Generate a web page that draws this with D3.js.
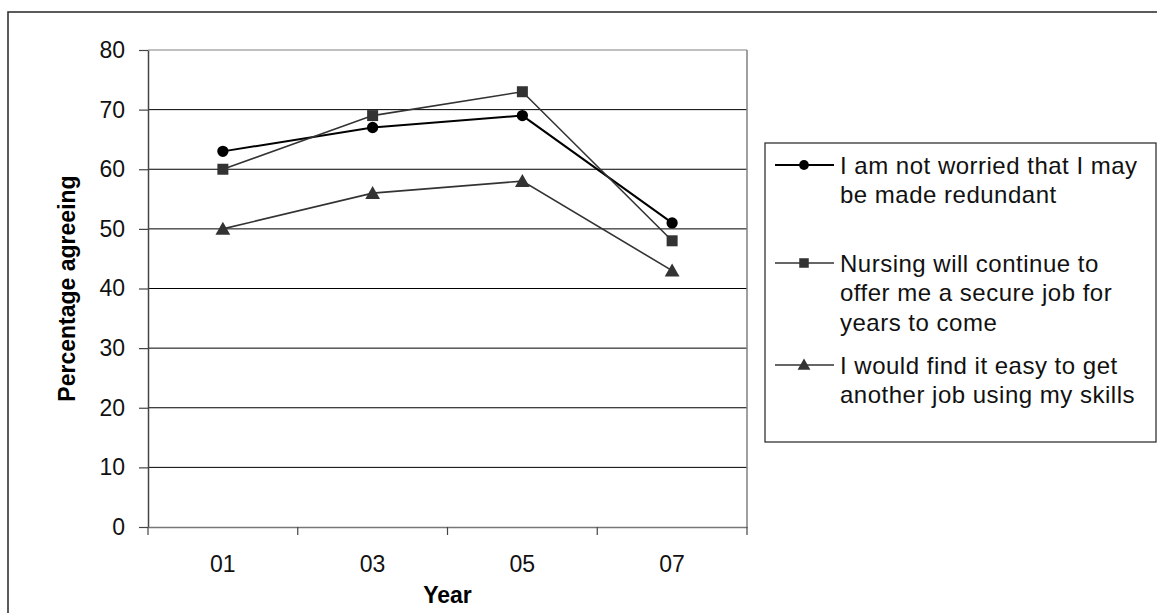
<!DOCTYPE html>
<html>
<head>
<meta charset="utf-8">
<script src="https://cdn.jsdelivr.net/npm/d3@7"></script>
<style>
  html, body { margin: 0; padding: 0; background: #fff; }
  svg { display: block; font-family: "Liberation Sans", Arial, sans-serif; }
</style>
</head>
<body>
<svg id="chart" width="1157" height="613"></svg>
<script>
// Survey years (two-digit labels) and share of nurses agreeing with each statement
const years = ["01", "03", "05", "07"];
const notWorried = [63, 67, 69, 51];
const secureJob = [60, 69, 73, 48];
const easyJob = [50, 56, 58, 43];
const yTicks = [0, 10, 20, 30, 40, 50, 60, 70, 80];

const seriesNames = [
  ["I am not worried that I may", "be made redundant"],
  ["Nursing will continue to", "offer me a secure job for", "years to come"],
  ["I would find it easy to get", "another job using my skills"]
];

const series = [
  { values: notWorried, name: seriesNames[0], symbol: d3.symbolCircle, size: 100, color: "#000", width: 2 },
  { values: secureJob, name: seriesNames[1], symbol: d3.symbolSquare, size: 121, color: "#333", width: 1.6 },
  { values: easyJob, name: seriesNames[2], symbol: d3.symbolTriangle, size: 95, color: "#333", width: 1.6 }
];

const svg = d3.select("#chart");

// Outer frame (runs off the right and bottom edges)
svg.append("rect")
  .attr("x", 8).attr("y", 12)
  .attr("width", 1200).attr("height", 700)
  .attr("fill", "none").attr("stroke", "#333").attr("stroke-width", 1.6);

const plot = { left: 148, right: 747, top: 50, bottom: 527 };

const x = d3.scaleBand().domain(years).range([plot.left, plot.right]);
const y = d3.scaleLinear().domain([0, 80]).range([plot.bottom, plot.top]);

// Horizontal gridlines
svg.append("g")
  .selectAll("line")
  .data(yTicks.filter(t => t > 0))
  .join("line")
  .attr("x1", plot.left).attr("x2", plot.right)
  .attr("y1", d => y(d)).attr("y2", d => y(d))
  .attr("stroke", d => d === 80 ? "#808080" : "#000")
  .attr("stroke-width", 1);

// Right edge of plot area
svg.append("line")
  .attr("x1", plot.right).attr("x2", plot.right)
  .attr("y1", plot.top).attr("y2", plot.bottom)
  .attr("stroke", "#808080").attr("stroke-width", 1.5);

// Y axis
const yAxis = svg.append("g")
  .attr("transform", `translate(${plot.left},0)`)
  .call(d3.axisLeft(y).tickValues(yTicks).tickSize(9).tickPadding(14).tickSizeOuter(0));
yAxis.select(".domain").attr("stroke", "#444").attr("stroke-width", 1.5);
yAxis.selectAll(".tick line").attr("stroke", "#444").attr("stroke-width", 1.2);
yAxis.selectAll(".tick text")
  .attr("font-size", 23).attr("fill", "#111")
  .attr("font-family", "Liberation Sans, Arial, sans-serif");

// X axis: ticks sit on category boundaries
const xAxis = svg.append("g")
  .attr("transform", `translate(0,${plot.bottom})`)
  .call(d3.axisBottom(x).tickSize(0).tickPadding(29));
xAxis.select(".domain").attr("stroke", "#777").attr("stroke-width", 1.5);
xAxis.selectAll(".tick text")
  .attr("font-size", 23).attr("fill", "#111")
  .attr("font-family", "Liberation Sans, Arial, sans-serif");
const boundaries = years.map(d => x(d)).concat([x(years[years.length - 1]) + x.bandwidth()]);
xAxis.selectAll(".bound")
  .data(boundaries)
  .join("line")
  .attr("class", "bound")
  .attr("x1", d => d).attr("x2", d => d)
  .attr("y1", 0).attr("y2", 8)
  .attr("stroke", "#444").attr("stroke-width", 1.2);

// Axis titles
svg.append("text")
  .attr("x", x(years[1]) + x.bandwidth())
  .attr("y", 603)
  .attr("text-anchor", "middle")
  .attr("font-size", 23).attr("font-weight", "bold")
  .text("Year");

svg.append("text")
  .attr("transform", `translate(75,${(plot.top + plot.bottom) / 2}) rotate(-90)`)
  .attr("text-anchor", "middle")
  .attr("font-size", 23).attr("font-weight", "bold")
  .text("Percentage agreeing");

// Series lines and markers
const cx = d => x(d) + x.bandwidth() / 2;
const line = d3.line().x((v, i) => cx(years[i])).y(v => y(v));

series.forEach(s => {
  svg.append("path")
    .attr("d", line(s.values))
    .attr("fill", "none")
    .attr("stroke", s.color)
    .attr("stroke-width", s.width);
  svg.append("g")
    .selectAll("path")
    .data(s.values)
    .join("path")
    .attr("transform", (v, i) => `translate(${cx(years[i])},${y(v) + (s.symbol === d3.symbolTriangle ? 1.5 : 0)})`)
    .attr("d", d3.symbol(s.symbol, s.size))
    .attr("fill", s.color);
});

// Legend
const legend = svg.append("g");
legend.append("rect")
  .attr("x", 765).attr("y", 143)
  .attr("width", 391).attr("height", 299)
  .attr("fill", "#fff").attr("stroke", "#333").attr("stroke-width", 1.3);

const entryY = [165, 263, 365];
series.forEach((s, k) => {
  const ey = entryY[k];
  legend.append("line")
    .attr("x1", 775).attr("x2", 834)
    .attr("y1", ey).attr("y2", ey)
    .attr("stroke", s.color).attr("stroke-width", s.width);
  legend.append("path")
    .attr("transform", `translate(804,${ey + (s.symbol === d3.symbolTriangle ? 1 : 0)})`)
    .attr("d", d3.symbol(s.symbol, s.size * 0.75))
    .attr("fill", s.color);
  legend.append("text")
    .attr("x", 840)
    .attr("y", ey + 8.5)
    .attr("font-size", 24)
    .attr("letter-spacing", 0.5)
    .attr("fill", "#111")
    .selectAll("tspan")
    .data(s.name)
    .join("tspan")
    .attr("x", 840)
    .attr("dy", (d, i) => i === 0 ? 0 : 29.5)
    .text(d => d);
});
</script>
</body>
</html>
